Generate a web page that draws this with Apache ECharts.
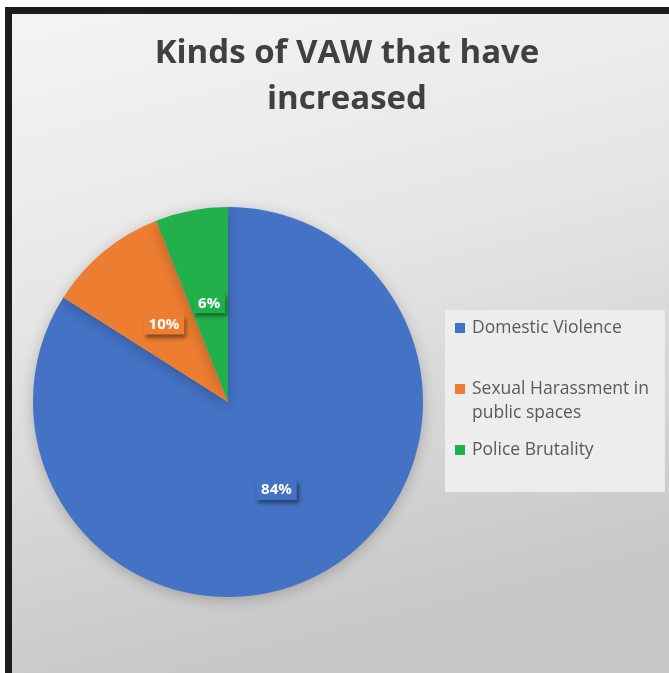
<!DOCTYPE html>
<html>
<head>
<meta charset="utf-8">
<style>
  html, body { margin: 0; padding: 0; background: #ffffff; }
  #chart { width: 669px; height: 673px; }
</style>
<script src="https://cdn.jsdelivr.net/npm/echarts@6/dist/echarts.min.js"></script>
</head>
<body>
<div id="chart"></div>
<script>
// Survey shares of the kinds of violence against women that increased
const categories = ['Domestic Violence', 'Sexual Harassment in public spaces', 'Police Brutality'];
const shares = [84, 10, 6];
const sliceColors = ['#4472C4', '#ED7D31', '#22B04B'];

const chart = echarts.init(document.getElementById('chart'), null, { renderer: 'canvas' });

// Legend entry text, with the long name broken over two lines
function legendText(name) {
  if (name === categories[1]) {
    // leading blank line keeps the swatch level with the first text line
    return '\nSexual Harassment in\npublic spaces';
  }
  return name;
}

const option = {
  backgroundColor: {
    type: 'linear', x: 0, y: 0, x2: 0.25, y2: 1,
    colorStops: [
      { offset: 0, color: '#f5f5f5' },
      { offset: 0.45, color: '#e6e6e6' },
      { offset: 1, color: '#c8c8c8' }
    ]
  },
  title: {
    text: 'Kinds of VAW that have\nincreased',
    left: 342,
    top: 26,
    textAlign: 'center',
    textStyle: {
      fontFamily: 'Open Sans',
      fontWeight: 'bold',
      fontSize: 33,
      lineHeight: 46,
      color: '#404040'
    }
  },
  legend: {
    orient: 'vertical',
    left: 445,
    top: 310,
    padding: [6, 16, 30, 10],
    backgroundColor: '#ededed',
    itemWidth: 10,
    itemHeight: 10,
    itemGap: 13,
    icon: 'rect',
    data: categories,
    formatter: legendText,
    textStyle: {
      fontFamily: 'Open Sans',
      fontSize: 17.5,
      lineHeight: 24,
      color: '#5a5a5a',
      padding: [0, 0, 0, 2]
    }
  },
  series: [{
    type: 'pie',
    center: [228, 402],
    radius: 195,
    startAngle: 90,
    clockwise: true,
    avoidLabelOverlap: false,
    data: categories.map((name, i) => ({
      name: name,
      value: shares[i],
      itemStyle: { color: sliceColors[i] },
      label: { backgroundColor: sliceColors[i] }
    })),
    itemStyle: {
      borderWidth: 0,
      shadowBlur: 14,
      shadowColor: 'rgba(0,0,0,0.22)',
      shadowOffsetY: 3
    },
    label: {
      show: true,
      position: 'inside',
      formatter: '{c}%',
      fontFamily: 'Open Sans',
      fontWeight: 'bold',
      fontSize: 15,
      color: '#ffffff',
      padding: [3, 5, 2, 5],
      shadowBlur: 4,
      shadowColor: 'rgba(0,0,0,0.45)',
      shadowOffsetX: 2,
      shadowOffsetY: 3
    },
    labelLine: { show: false },
    emphasis: { disabled: true }
  }],
  graphic: [
    // outer white margin and dark frame along the top and left edges
    { type: 'rect', z: 100, shape: { x: 0, y: 0, width: 669, height: 7 }, style: { fill: '#ffffff' } },
    { type: 'rect', z: 100, shape: { x: 0, y: 0, width: 5, height: 673 }, style: { fill: '#ffffff' } },
    { type: 'rect', z: 101, shape: { x: 5, y: 7, width: 664, height: 7 }, style: { fill: '#1c1c1c' } },
    { type: 'rect', z: 101, shape: { x: 5, y: 7, width: 7, height: 666 }, style: { fill: '#1c1c1c' } }
  ]
};

chart.setOption(option);
</script>
</body>
</html>
